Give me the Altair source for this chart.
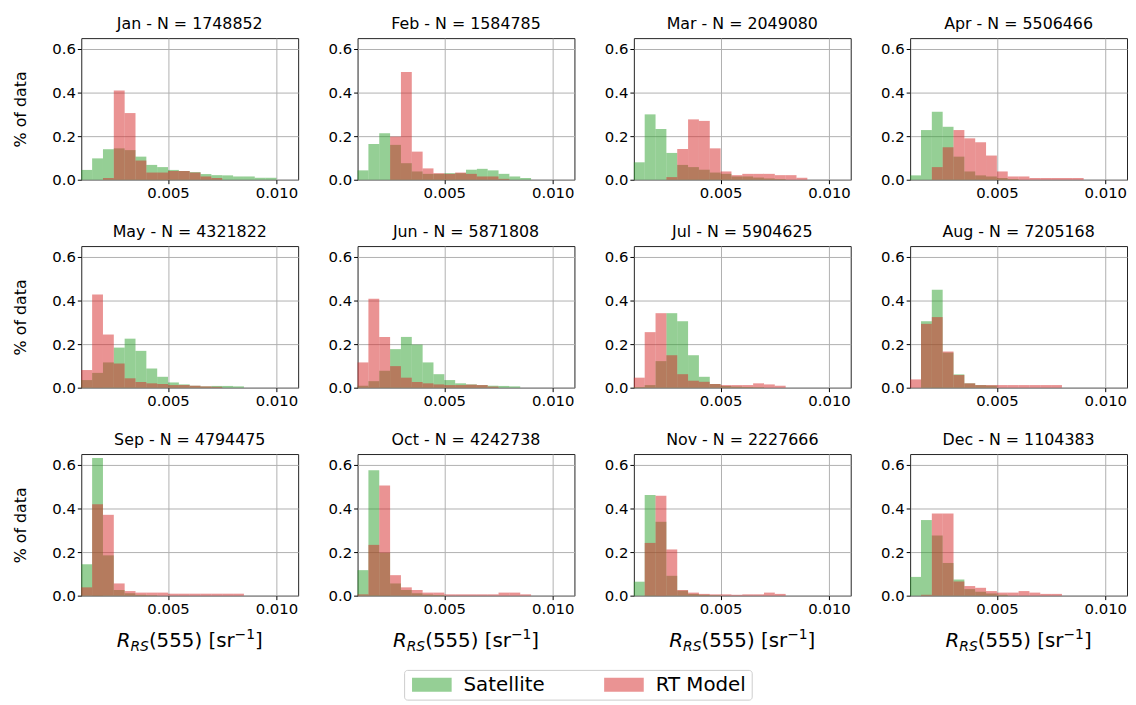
import altair as alt
import pandas as pd

months = ["Jan", "Feb", "Mar", "Apr", "May", "Jun", "Jul", "Aug", "Sep", "Oct", "Nov", "Dec"]
n_obs = [1748852, 1584785, 2049080, 5506466, 4321822, 5871808, 5904625, 7205168, 4794475, 4242738, 2227666, 1104383]
bin_edges = [0.0010, 0.0015, 0.0020, 0.0025, 0.0030, 0.0035, 0.0040, 0.0045, 0.0050, 0.0055,
             0.0060, 0.0065, 0.0070, 0.0075, 0.0080, 0.0085, 0.0090, 0.0095, 0.0100, 0.0105, 0.0110]

sat_jan = [0.045, 0.098, 0.140, 0.144, 0.136, 0.106, 0.068, 0.058, 0.045, 0.040, 0.035, 0.026, 0.021, 0.020, 0.015, 0.015, 0.009, 0.009]
rt_jan = [0, 0, 0.008, 0.410, 0.306, 0.088, 0.033, 0.033, 0.040, 0.040, 0.033, 0.015, 0.008]
sat_feb = [0.043, 0.164, 0.213, 0.160, 0.076, 0.038, 0.027, 0.027, 0.030, 0.030, 0.046, 0.050, 0.043, 0.027, 0.015, 0.008]
rt_feb = [0, 0, 0, 0.198, 0.494, 0.129, 0.052, 0.030, 0.027, 0.033, 0.027, 0.015, 0.015, 0.004]
sat_mar = [0.080, 0.300, 0.233, 0.123, 0.068, 0.058, 0.046, 0.033, 0.027, 0.015, 0.015, 0.010, 0.006, 0.003]
rt_mar = [0, 0, 0, 0.012, 0.141, 0.277, 0.270, 0.144, 0.038, 0.021, 0.027, 0.027, 0.027, 0.021, 0.021, 0.009]
sat_apr = [0.020, 0.228, 0.312, 0.243, 0.106, 0.038, 0.020, 0.015, 0.008, 0.003]
rt_apr = [0, 0, 0.058, 0.149, 0.228, 0.190, 0.172, 0.111, 0.038, 0.015, 0.015, 0.008, 0.008, 0.008, 0.008, 0.008]
sat_may = [0.035, 0.068, 0.116, 0.184, 0.225, 0.169, 0.088, 0.050, 0.024, 0.015, 0.009, 0.006, 0.008, 0.008, 0.006]
rt_may = [0.081, 0.428, 0.244, 0.111, 0.043, 0.026, 0.020, 0.017, 0.012, 0.012, 0.009, 0.006, 0.004]
sat_jun = [0.009, 0.030, 0.078, 0.177, 0.233, 0.198, 0.116, 0.062, 0.035, 0.020, 0.015, 0.012, 0.009, 0.008, 0.006]
rt_jun = [0.116, 0.408, 0.233, 0.099, 0.046, 0.026, 0.020, 0.015, 0.012, 0.012, 0.014, 0.012, 0.005]
sat_jul = [0.003, 0.012, 0.122, 0.342, 0.305, 0.149, 0.050, 0.017, 0.008, 0.005, 0.003, 0.002]
rt_jul = [0.046, 0.255, 0.342, 0.149, 0.062, 0.032, 0.027, 0.017, 0.012, 0.012, 0.012, 0.020, 0.015, 0.009]
sat_aug = [0.000, 0.305, 0.450, 0.161, 0.061, 0.020, 0.012, 0.010]
rt_aug = [0.038, 0.293, 0.324, 0.166, 0.058, 0.020, 0.012, 0.012, 0.012, 0.012, 0.012, 0.012, 0.012, 0.012]
sat_sep = [0.144, 0.632, 0.185, 0.026, 0.011, 0.004, 0.002]
rt_sep = [0.038, 0.420, 0.371, 0.056, 0.021, 0.014, 0.014, 0.014, 0.009, 0.009, 0.009, 0.009, 0.009, 0.009, 0.009]
sat_oct = [0.117, 0.576, 0.197, 0.056, 0.026, 0.011, 0.005, 0.003]
rt_oct = [0.006, 0.233, 0.506, 0.094, 0.038, 0.026, 0.014, 0.014, 0.006, 0.006, 0.006, 0.006, 0.006, 0.014, 0.014, 0.006]
sat_nov = [0.064, 0.462, 0.339, 0.091, 0.023, 0.008, 0.004, 0.002]
rt_nov = [0, 0.242, 0.458, 0.212, 0.026, 0.014, 0.008, 0.006, 0.006, 0.004, 0.006, 0.006, 0.014, 0.008]
sat_dec = [0.086, 0.347, 0.276, 0.150, 0.074, 0.030, 0.018, 0.010, 0.004]
rt_dec = [0, 0.004, 0.377, 0.377, 0.065, 0.044, 0.036, 0.021, 0.014, 0.014, 0.021, 0.014, 0.008, 0.008]

sat_all = [sat_jan, sat_feb, sat_mar, sat_apr, sat_may, sat_jun, sat_jul, sat_aug, sat_sep, sat_oct, sat_nov, sat_dec]
rt_all = [rt_jan, rt_feb, rt_mar, rt_apr, rt_may, rt_jun, rt_jul, rt_aug, rt_sep, rt_oct, rt_nov, rt_dec]

series_names = ["Satellite", "RT Model"]
series_colors = ["#2ca02c", "#d62728"]

W, H = 219, 143
FONT = "DejaVu Sans"


def frame(values, name):
    rows = []
    for k, v in enumerate(values):
        if v > 0:
            rows.append({"x0": bin_edges[k], "x1": bin_edges[k + 1], "v": v, "series": name})
    return pd.DataFrame(rows)


def bars(df, ytitle):
    return alt.Chart(df).mark_rect(opacity=0.5).encode(
        x=alt.X("x0:Q", scale=alt.Scale(domain=[0.001, 0.011], nice=False, zero=False),
                axis=alt.Axis(values=[0.005, 0.010], format=".3f", title=None)),
        x2="x1:Q",
        y=alt.Y("v:Q", scale=alt.Scale(domain=[0, 0.65], nice=False),
                axis=alt.Axis(values=[0, 0.2, 0.4, 0.6], format=".1f", title=ytitle)),
        y2=alt.datum(0),
        color=alt.Color("series:N",
                        scale=alt.Scale(domain=series_names, range=series_colors),
                        legend=alt.Legend(title=None, orient="none", legendX=326, legendY=638,
                                          direction="horizontal",
                                          symbolType="M-2.857,-1H2.857V1H-2.857Z", symbolSize=196,
                                          symbolOffset=13,
                                          symbolOpacity=0.5, symbolStrokeWidth=0,
                                          labelFontSize=20, labelFont=FONT, labelColor="#000",
                                          labelOffset=22, columnPadding=57,
                                          padding=5, strokeColor="#cccccc", cornerRadius=3)),
    )


def xtitle_layers():
    F, S = 20, 14
    parts = [
        ("R", F, 0, "italic", 0.695 * F),
        ("RS", S, 4, "italic", (0.695 + 0.635) * S),
        ("(555) [sr", F, 0, "normal", 4.328 * F),
        ("\u22121", S, -8, "normal", (0.838 + 0.636) * S),
        ("]", F, 0, "normal", 0.39 * F),
    ]
    total = sum(p[4] for p in parts)
    x = W / 2 - total / 2
    base_y = H + 52
    layers = []
    for txt, size, dy, style, width in parts:
        layers.append(
            alt.Chart(pd.DataFrame({"t": [txt]})).mark_text(
                align="left", baseline="alphabetic", font=FONT, fontSize=size,
                fontStyle=style, color="#000"
            ).encode(text="t:N", x=alt.value(x), y=alt.value(base_y + dy))
        )
        x += width
    return layers


def panel(i):
    ytitle = "% of data" if i % 4 == 0 else None
    layers = [bars(frame(sat_all[i], "Satellite"), ytitle), bars(frame(rt_all[i], "RT Model"), ytitle)]
    if i >= 8:
        layers += xtitle_layers()
    return alt.layer(*layers).properties(
        width=W, height=H,
        title=alt.TitleParams(f"{months[i]} - N = {n_obs[i]}", fontSize=16, font=FONT,
                              fontWeight="normal", offset=6, anchor="middle", color="#000"),
    )


rows = [alt.hconcat(*[panel(r * 4 + c) for c in range(4)], spacing=28) for r in range(3)]
chart = alt.vconcat(*rows, spacing=22).properties(
    padding={"left": 4, "top": 4, "right": 0, "bottom": 0}
).configure_view(
    stroke="#222", strokeWidth=1
).configure_axis(
    labelFont=FONT, labelFontSize=15, labelColor="#000",
    titleFont=FONT, titleFontSize=16, titleFontWeight="normal", titleColor="#000",
    tickColor="#000", tickSize=4, domain=False,
    gridColor="#b0b0b0", gridWidth=1, titlePadding=23,
)

chart.save("out.html", embed_options={"renderer": "svg", "actions": False})
